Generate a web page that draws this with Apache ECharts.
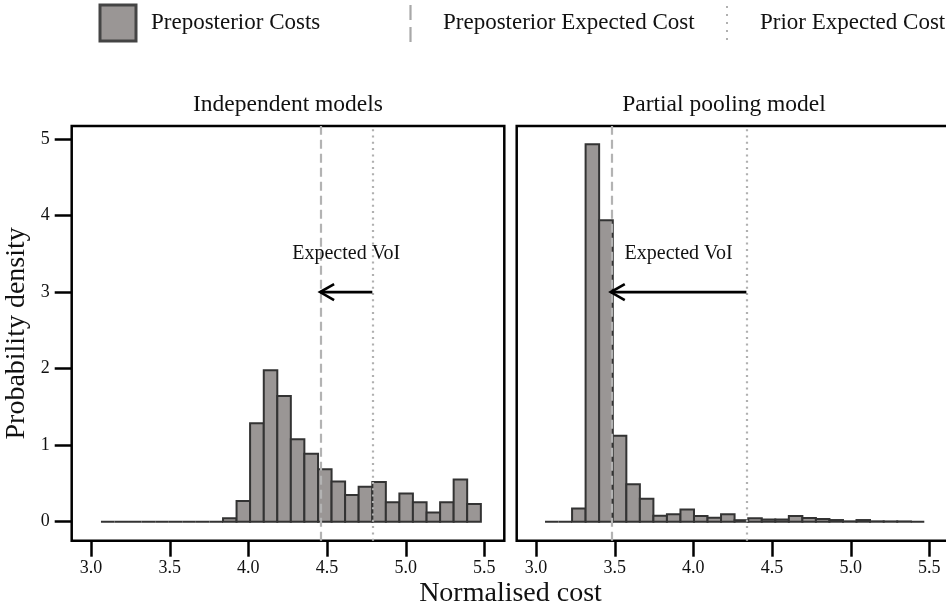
<!DOCTYPE html>
<html><head><meta charset="utf-8">
<script src="https://cdn.jsdelivr.net/npm/echarts@6/dist/echarts.min.js"></script>
<style>html,body{margin:0;padding:0;background:#fff}#chart{width:946px;height:611px}</style>
</head><body><div id="chart"></div>
<script>
// ---------------- data ----------------
const panelTitles = ['Independent models', 'Partial pooling model'];
const legendLabels = ['Preposterior Costs', 'Preposterior Expected Cost', 'Prior Expected Cost'];
const xAxisTitle = 'Normalised cost';
const yAxisTitle = 'Probability density';
const voiLabel = 'Expected VoI';
const xTickValues = [3.0, 3.5, 4.0, 4.5, 5.0, 5.5];
const yTickValues = [0, 1, 2, 3, 4, 5];

// histogram bin edges and densities
const independentEdges = [3.063, 3.149, 3.235, 3.321, 3.408, 3.494, 3.580, 3.666, 3.753, 3.839,
  3.925, 4.011, 4.098, 4.184, 4.270, 4.356, 4.443, 4.529, 4.615, 4.701,
  4.788, 4.874, 4.960, 5.046, 5.133, 5.219, 5.305, 5.391, 5.478];
const independentDensity = [0, 0, 0, 0, 0, 0, 0, 0, 0, 0.044,
  0.27, 1.285, 1.978, 1.643, 1.076, 0.889, 0.684, 0.527, 0.349, 0.458,
  0.519, 0.253, 0.370, 0.253, 0.122, 0.253, 0.553, 0.231];
const poolingEdges = [3.057, 3.143, 3.229, 3.315, 3.401, 3.488, 3.574, 3.660, 3.746, 3.832,
  3.918, 4.004, 4.090, 4.176, 4.262, 4.349, 4.435, 4.521, 4.607, 4.693,
  4.779, 4.865, 4.951, 5.037, 5.123, 5.210, 5.296, 5.382, 5.468];
const poolingDensity = [0, 0, 0.174, 4.93, 3.94, 1.124, 0.488, 0.30, 0.078, 0.096,
  0.161, 0.074, 0.052, 0.096, 0.02, 0.044, 0.03, 0.03, 0.074, 0.048,
  0.035, 0.022, 0.005, 0.022, 0.005, 0.004, 0.004, 0];

const preposteriorExpectedCost = [4.456, 3.475];
const priorExpectedCost = [4.788, 4.337];
const voiArrowY = [3, 3];
const voiLabelY = [3.5, 3.5];

// ---------------- chart ----------------
const FONT = '"Liberation Serif", "Times New Roman", serif';
const TXT = '#111111';
const BAR_FILL = '#9a9695';
const BAR_STROKE = '#333333';
const DASH_COLOR = '#b3b3b3';
const DOT_COLOR = '#b0b0b0';
const X_MIN = 2.877, X_MAX = 5.627, Y_MIN = -0.248, Y_MAX = 5.17;
const X_TICK_LEN = 16;

function binData(edges, dens) {
  return dens.map((d, i) => [edges[i], edges[i + 1], d]);
}

function histItem(params, api) {
  const x0 = api.value(0), x1 = api.value(1), h = api.value(2);
  const p0 = api.coord([x0, h]);
  const p1 = api.coord([x1, 0]);
  return {
    type: 'rect',
    shape: { x: p0[0], y: p0[1], width: p1[0] - p0[0], height: p1[1] - p0[1] },
    style: { fill: BAR_FILL, stroke: BAR_STROKE, lineWidth: 2 }
  };
}

function arrowItem(params, api) {
  const xFrom = api.value(0), xTo = api.value(1), y = api.value(2), ly = api.value(3);
  const a = api.coord([xFrom, y]);
  const b = api.coord([xTo, y]);
  const t = api.coord([(xFrom + xTo) / 2, ly]);
  return {
    type: 'group',
    children: [
      { type: 'line', shape: { x1: a[0], y1: a[1], x2: b[0], y2: b[1] },
        style: { stroke: '#000', lineWidth: 2.6 } },
      { type: 'polyline', shape: { points: [[b[0] + 14, b[1] - 8], [b[0], b[1]], [b[0] + 14, b[1] + 8]] },
        style: { stroke: '#000', lineWidth: 2.6, fill: null } },
      { type: 'text', x: t[0], y: t[1],
        style: { text: voiLabel, fontSize: 20, fontFamily: FONT, fill: TXT, align: 'center', verticalAlign: 'middle' } }
    ]
  };
}

const grids = [
  { left: 71.7, top: 126, width: 432.6, height: 414.7 },
  { left: 516.7, top: 126, width: 432.6, height: 414.7 }
].map(g => Object.assign(g, {
  show: true, borderColor: '#000', borderWidth: 2.5, backgroundColor: 'transparent',
  containLabel: false, outerBoundsMode: 'none'
}));

function xAxisFor(i) {
  return {
    type: 'value', gridIndex: i, min: X_MIN, max: X_MAX, position: 'bottom',
    axisLine: { show: false, onZero: false },
    splitLine: { show: false },
    axisTick: { show: false },
    axisLabel: { show: true, margin: 19, fontSize: 18, fontFamily: FONT, color: TXT,
      customValues: xTickValues, formatter: v => v.toFixed(1) }
  };
}
function yAxisFor(i) {
  const ax = {
    type: 'value', gridIndex: i, min: Y_MIN, max: Y_MAX, position: 'left',
    axisLine: { show: false, onZero: false },
    splitLine: { show: false },
    axisTick: { show: i === 0, length: 17, lineStyle: { color: '#000', width: 2.5 }, customValues: yTickValues },
    axisLabel: { show: i === 0, margin: 22, fontSize: 18, fontFamily: FONT, color: TXT, customValues: yTickValues }
  };
  if (i === 0) {
    ax.name = yAxisTitle;
    ax.nameLocation = 'middle';
    ax.nameGap = 41;
    ax.nameTextStyle = { fontSize: 28, fontFamily: FONT, color: TXT };
  }
  return ax;
}

function vLine(name, value, i, color, dash, width) {
  return {
    name: name, type: 'line', xAxisIndex: i, yAxisIndex: i, data: [], z: 5,
    markLine: {
      silent: true, symbol: 'none', animation: false,
      label: { show: false },
      lineStyle: { color: color, type: dash, width: width },
      data: [{ xAxis: value }]
    }
  };
}

const series = [];
[[independentEdges, independentDensity], [poolingEdges, poolingDensity]].forEach((pair, i) => {
  series.push({
    name: legendLabels[0], type: 'custom', xAxisIndex: i, yAxisIndex: i,
    renderItem: histItem, encode: { x: [0, 1], y: 2 },
    data: binData(pair[0], pair[1]), z: 2
  });
  series.push(vLine(legendLabels[1], preposteriorExpectedCost[i], i, DASH_COLOR, [9, 5], 2.2));
  series.push(vLine(legendLabels[2], priorExpectedCost[i], i, DOT_COLOR, [2, 4.3], 2.2));
  series.push({
    name: voiLabel, type: 'custom', xAxisIndex: i, yAxisIndex: i,
    renderItem: arrowItem, encode: { x: [0, 1], y: [2, 3] },
    data: [[priorExpectedCost[i], preposteriorExpectedCost[i], voiArrowY[i], voiLabelY[i]]], z: 6
  });
});

const graphic = [
  { type: 'rect', shape: { x: 100, y: 5, width: 36, height: 36 },
    style: { fill: BAR_FILL, stroke: '#444', lineWidth: 3 } },
  { type: 'text', x: 151, y: 23,
    style: { text: legendLabels[0], fontSize: 23, fontFamily: FONT, fill: TXT, verticalAlign: 'middle' } },
  { type: 'line', shape: { x1: 410.5, y1: 5, x2: 410.5, y2: 42 },
    style: { stroke: '#a8a8a8', lineWidth: 2.2, lineDash: [15, 7] } },
  { type: 'text', x: 443, y: 23,
    style: { text: legendLabels[1], fontSize: 23, fontFamily: FONT, fill: TXT, verticalAlign: 'middle' } },
  { type: 'line', shape: { x1: 727, y1: 6, x2: 727, y2: 42 },
    style: { stroke: '#b0b0b0', lineWidth: 2, lineDash: [2, 6] } },
  { type: 'text', x: 760, y: 23,
    style: { text: legendLabels[2], fontSize: 23, fontFamily: FONT, fill: TXT, verticalAlign: 'middle' } },
  { type: 'text', x: 288, y: 105,
    style: { text: panelTitles[0], fontSize: 23.5, fontFamily: FONT, fill: TXT, align: 'center', verticalAlign: 'middle' } },
  { type: 'text', x: 724, y: 105,
    style: { text: panelTitles[1], fontSize: 23.5, fontFamily: FONT, fill: TXT, align: 'center', verticalAlign: 'middle' } },
  { type: 'text', x: 510.5, y: 594,
    style: { text: xAxisTitle, fontSize: 28, fontFamily: FONT, fill: TXT, align: 'center', verticalAlign: 'middle' } }
];

const chart = echarts.init(document.getElementById('chart'), null, { renderer: 'canvas' });
chart.setOption({
  animation: false,
  backgroundColor: '#ffffff',
  grid: grids,
  xAxis: [xAxisFor(0), xAxisFor(1)],
  yAxis: [yAxisFor(0), yAxisFor(1)],
  series: series,
  graphic: graphic
});

// x tick marks placed through each axis scale (outside, below each panel)
const tickGraphics = [];
[0, 1].forEach(i => {
  const yPix = chart.convertToPixel({ yAxisIndex: i }, Y_MIN);
  xTickValues.forEach(v => {
    const xPix = chart.convertToPixel({ xAxisIndex: i }, v);
    if (typeof xPix !== 'number' || typeof yPix !== 'number' || isNaN(xPix) || isNaN(yPix)) return;
    const x = Math.round(xPix) + 0.5;
    tickGraphics.push({ type: 'line', z: 100, silent: true,
      shape: { x1: x, y1: yPix, x2: x, y2: yPix + X_TICK_LEN },
      style: { stroke: '#000', lineWidth: 2.5 } });
  });
});
chart.setOption({ graphic: graphic.concat(tickGraphics) });
</script>
</body></html>
